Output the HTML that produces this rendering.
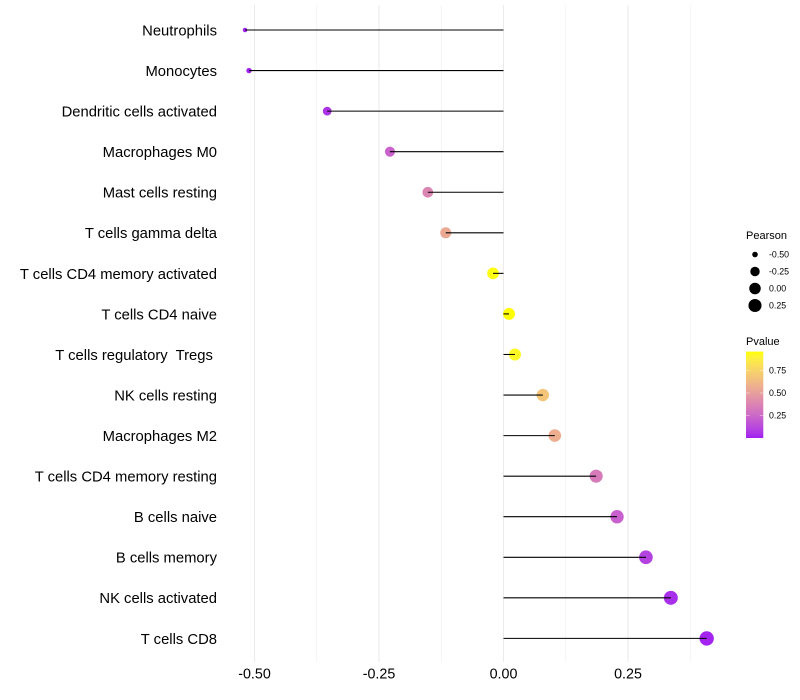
<!DOCTYPE html>
<html>
<head>
<meta charset="utf-8">
<title>Lollipop chart</title>
<style>
html,body{margin:0;padding:0;background:#fff;width:800px;height:700px;overflow:hidden}
svg{display:block}
text{font-family:"Liberation Sans",sans-serif;white-space:pre}
</style>
</head>
<body>
<svg id="chart" xmlns="http://www.w3.org/2000/svg" width="800" height="700" viewBox="0 0 800 700">
  <defs>
    <linearGradient id="pvalue-gradient" x1="0" y1="1" x2="0" y2="0"></linearGradient>
  </defs>
  <g id="grid"></g>
  <g id="marks"></g>
  <g id="y-axis"></g>
  <g id="x-axis"></g>
  <g id="legend-size">
    <text x="746" y="239" font-size="11" fill="#000">Pearson</text>
  </g>
  <g id="legend-color">
    <text x="746" y="345" font-size="11" fill="#000">Pvalue</text>
  </g>
</svg>
<script>
const categories = ["Neutrophils","Monocytes","Dendritic cells activated","Macrophages M0","Mast cells resting","T cells gamma delta","T cells CD4 memory activated","T cells CD4 naive","T cells regulatory  Tregs ","NK cells resting","Macrophages M2","T cells CD4 memory resting","B cells naive","B cells memory","NK cells activated","T cells CD8"];
const pearson = [-0.519,-0.511,-0.354,-0.228,-0.152,-0.116,-0.021,0.011,0.023,0.079,0.103,0.186,0.228,0.286,0.336,0.408];
const pvalue = [0.01,0.01,0.05,0.23,0.38,0.55,0.95,0.96,0.93,0.68,0.57,0.33,0.22,0.1,0.04,0.01];
const xMajorTicks = [-0.5,-0.25,0,0.25];
const xMinorTicks = [-0.375,-0.125,0.125,0.375];
const xTickLabels = ["-0.50","-0.25","0.00","0.25"];
const sizeLegendValues = [-0.5,-0.25,0,0.25];
const sizeLegendLabels = ["-0.50","-0.25","0.00","0.25"];
const colorLegendValues = [0.25,0.5,0.75];
const colorLegendLabels = ["0.25","0.50","0.75"];

const NS = "http://www.w3.org/2000/svg";
function mk(tag, attrs, parent, txt) {
  const e = document.createElementNS(NS, tag);
  for (const k in attrs) e.setAttribute(k, attrs[k]);
  if (txt !== undefined) e.textContent = txt;
  parent.appendChild(e);
  return e;
}
/* axis functions */
function xScale(v) { return 503.5 + v * 498; }
function yScale(i) { return 30 + i * 40.56; }
const sizeMin = -0.519, sizeMax = 0.408;
function rScale(v) {
  const t = Math.max(0, Math.min(1, (v - sizeMin) / (sizeMax - sizeMin)));
  return 1.3 + 0.98 * (1 + 5 * Math.sqrt(t));
}
function barY(p) { return 438 - p * 90; }

/* Lab colour interpolation, purple to yellow */
function toLab(c) {
  const f = c.map(v => { v /= 255; return v > 0.04045 ? Math.pow((v + 0.055) / 1.055, 2.4) : v / 12.92; });
  const X = (0.4124 * f[0] + 0.3576 * f[1] + 0.1805 * f[2]) / 0.95047;
  const Y = 0.2126 * f[0] + 0.7152 * f[1] + 0.0722 * f[2];
  const Z = (0.0193 * f[0] + 0.1192 * f[1] + 0.9505 * f[2]) / 1.08883;
  const g = t => t > 0.008856 ? Math.cbrt(t) : 7.787 * t + 16 / 116;
  return [116 * g(Y) - 16, 500 * (g(X) - g(Y)), 200 * (g(Y) - g(Z))];
}
function fromLab(l) {
  const fy = (l[0] + 16) / 116, fx = fy + l[1] / 500, fz = fy - l[2] / 200;
  const h = t => t * t * t > 0.008856 ? t * t * t : (t - 16 / 116) / 7.787;
  const X = 0.95047 * h(fx), Y = h(fy), Z = 1.08883 * h(fz);
  const lin = [3.2406 * X - 1.5372 * Y - 0.4986 * Z, -0.9689 * X + 1.8758 * Y + 0.0415 * Z, 0.0557 * X - 0.204 * Y + 1.057 * Z];
  const c = lin.map(v => {
    v = Math.max(0, Math.min(1, v));
    v = v > 0.0031308 ? 1.055 * Math.pow(v, 1 / 2.4) - 0.055 : 12.92 * v;
    return Math.round(v * 255);
  });
  return "rgb(" + c.join(",") + ")";
}
const labLow = toLab([160, 32, 240]), labHigh = toLab([255, 255, 0]);
function colorScale(p) {
  const t = Math.max(0, Math.min(1, p / 0.96));
  return fromLab(labLow.map((v, i) => v + (labHigh[i] - v) * t));
}

/* grid */
const grid = document.getElementById("grid");
xMinorTicks.forEach(v => {
  const l = mk("line", {x1: xScale(v), x2: xScale(v), y1: 5, y2: 662, stroke: "#efefef", "stroke-width": 0.6}, grid);
  
  
});
xMajorTicks.forEach(v => {
  const l = mk("line", {x1: xScale(v), x2: xScale(v), y1: 5, y2: 662, stroke: "#ebebeb", "stroke-width": 1.07}, grid);
  
  
});

/* marks: points below, segments above */
const marks = document.getElementById("marks");
categories.forEach((c, i) => {
  const pt = mk("circle", {cx: xScale(pearson[i]), cy: yScale(i), r: rScale(pearson[i]), fill: colorScale(pvalue[i])}, marks);
  
  
});
categories.forEach((c, i) => {
  const seg = mk("line", {x1: xScale(0), x2: xScale(pearson[i]), y1: yScale(i), y2: yScale(i), stroke: "#000", "stroke-width": 1.07}, marks);
  
  
});

/* y axis labels */
const yAxis = document.getElementById("y-axis");
categories.forEach((c, i) => {
  const t = mk("text", {x: 217, y: yScale(i) + 5.4, "text-anchor": "end", "font-size": 14.8, fill: "#000"}, yAxis, c);
  t.setAttribute('xml:space', 'preserve');
  
  
});

/* x axis labels */
const xAxis = document.getElementById("x-axis");
xMajorTicks.forEach((v, i) => {
  const t = mk("text", {x: xScale(v), y: 678.5, "text-anchor": "middle", "font-size": 14.3, fill: "#000"}, xAxis, xTickLabels[i]);
  
  
});

/* size legend */
const legendSize = document.getElementById("legend-size");
sizeLegendValues.forEach((v, i) => {
  const cy = 254.5 + i * 17;
  const d = mk("circle", {cx: 755, cy: cy, r: rScale(v) - 0.2, fill: "#000"}, legendSize);
  
  
  const t = mk("text", {x: 769, y: cy + 3, "font-size": 8.8, fill: "#000"}, legendSize, sizeLegendLabels[i]);
  
  
});

/* colour bar */
const gradient = document.getElementById("pvalue-gradient");
for (let s = 0; s <= 20; s++) {
  mk("stop", {offset: s / 20, "stop-color": colorScale(s / 20 * 0.96)}, gradient);
}
const legendColor = document.getElementById("legend-color");
const bar = mk("rect", {x: 746, y: barY(0.96), width: 17.3, height: barY(0) - barY(0.96), fill: "url(#pvalue-gradient)"}, legendColor);


colorLegendValues.forEach((v, i) => {
  const y = barY(v);
  const a = mk("line", {x1: 746, x2: 749.5, y1: y, y2: y, stroke: "#fff", "stroke-width": 0.5, opacity: 0.8}, legendColor);
  
  
  const b = mk("line", {x1: 759.8, x2: 763.3, y1: y, y2: y, stroke: "#fff", "stroke-width": 0.5, opacity: 0.8}, legendColor);
  
  
  const t = mk("text", {x: 769, y: y + 3, "font-size": 8.8, fill: "#000"}, legendColor, colorLegendLabels[i]);
  
  
});
</script>
</body>
</html>
